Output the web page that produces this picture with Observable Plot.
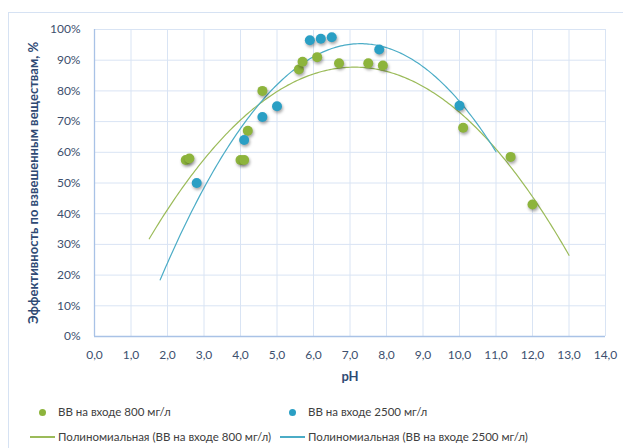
<!DOCTYPE html>
<html>
<head>
<meta charset="utf-8">
<script src="https://cdn.jsdelivr.net/npm/d3@7"></script>
<script src="https://cdn.jsdelivr.net/npm/@observablehq/plot@0.6"></script>
<style>
  html, body { margin: 0; padding: 0; width: 623px; height: 448px; overflow: hidden; background: #fff; font-family: Lato, "Open Sans", sans-serif; }
  #frame { position: absolute; left: 8px; top: 12px; width: 700px; height: 500px; border: 1px solid #d6e2f3; box-sizing: border-box; }
  #chart { position: absolute; left: 0; top: 0; }
  .dots circle { filter: drop-shadow(1px 2px 1.5px rgba(0,0,0,0.35)); }
  .leg { position: absolute; font-size: 11.5px; color: #404040; white-space: nowrap; line-height: 14px; }
  .sw-dot { position: absolute; width: 7px; height: 7px; border-radius: 50%; }
  .sw-line { position: absolute; height: 1.5px; }
</style>
</head>
<body>
<div id="frame"></div>
<div id="chart"></div>
<div id="legend"></div>
<script>
// Series: ВВ на входе 800 мг/л
const ph800  = [2.5, 2.6, 4.0, 4.1, 4.2, 4.6, 5.6, 5.7, 6.1, 6.7, 7.5, 7.9, 10.1, 11.4, 12.0];
const eff800 = [57.5, 58, 57.5, 57.5, 67, 80, 87, 89.5, 91, 89, 89, 88.3, 68, 58.5, 43];
// Series: ВВ на входе 2500 мг/л
const ph2500  = [2.8, 4.1, 4.6, 5.0, 5.9, 6.2, 6.5, 7.8, 10.0];
const eff2500 = [50, 64, 71.5, 75, 96.5, 97, 97.5, 93.5, 75.2];
// Trendline x-extents (as drawn)
const trend800Range  = [1.5, 13.0];
const trend2500Range = [1.8, 11.0];

const xTicks = d3.range(0, 14.01, 1);
const yTicks = d3.range(0, 100.01, 10);

const series = [
  {name: "ВВ на входе 800 мг/л", trend: "Полиномиальная (ВВ на входе 800 мг/л)", xs: ph800, ys: eff800, range: trend800Range, dot: "#8db43c", line: "#9bbb59"},
  {name: "ВВ на входе 2500 мг/л", trend: "Полиномиальная (ВВ на входе 2500 мг/л)", xs: ph2500, ys: eff2500, range: trend2500Range, dot: "#2a9fc4", line: "#4bacc6"}
];

// least-squares quadratic fit (Excel polynomial trendline, order 2)
function quadFit(xs, ys) {
  let S = Array(5).fill(0), T = Array(3).fill(0);
  xs.forEach((x, i) => {
    for (let k = 0; k < 5; k++) S[k] += Math.pow(x, k);
    for (let k = 0; k < 3; k++) T[k] += Math.pow(x, k) * ys[i];
  });
  const A = [[S[0], S[1], S[2], T[0]], [S[1], S[2], S[3], T[1]], [S[2], S[3], S[4], T[2]]];
  for (let i = 0; i < 3; i++) {
    for (let j = i + 1; j < 3; j++) {
      const f = A[j][i] / A[i][i];
      for (let k = i; k < 4; k++) A[j][k] -= f * A[i][k];
    }
  }
  const c = [0, 0, 0];
  for (let i = 2; i >= 0; i--) {
    let s = A[i][3];
    for (let k = i + 1; k < 3; k++) s -= A[i][k] * c[k];
    c[i] = s / A[i][i];
  }
  return x => c[0] + c[1] * x + c[2] * x * x;
}

const dots = series.flatMap(s => s.xs.map((x, i) => ({x, y: s.ys[i], s: s.name, color: s.dot})));
const trends = series.flatMap(s => {
  const f = quadFit(s.xs, s.ys);
  return d3.range(s.range[0], s.range[1] + 1e-9, 0.05).map(x => ({x, y: f(x), s: s.name, color: s.line}));
});

const fmtX = d => d.toFixed(1).replace(".", ",");

const plot = Plot.plot({
  width: 623,
  height: 395,
  marginLeft: 94,
  marginRight: 18,
  marginTop: 29,
  marginBottom: 59,
  style: {fontFamily: "Lato, 'Open Sans', sans-serif", fontSize: "12px", color: "#3d4f6e", background: "transparent"},
  x: {domain: [0, 14], ticks: xTicks, tickFormat: fmtX},
  y: {domain: [0, 100], ticks: yTicks, tickFormat: d => d + "%"},
  marks: [
    Plot.gridX(xTicks, {stroke: "#d9e4f4", strokeOpacity: 1, strokeWidth: 1}),
    Plot.gridY(yTicks, {stroke: "#d9e4f4", strokeOpacity: 1, strokeWidth: 1}),
    Plot.ruleX([0], {stroke: "#a9c2e6", strokeWidth: 1.3}),
    Plot.ruleY([0], {stroke: "#a9c2e6", strokeWidth: 1.3}),
    Plot.axisX(xTicks, {tickSize: 0, tickPadding: 14, tickFormat: fmtX, label: null, fontSize: 12}),
    Plot.axisY(yTicks, {tickSize: 0, tickPadding: 14, tickFormat: d => d + "%", label: null, fontSize: 12}),
    Plot.text(["pH"], {frameAnchor: "bottom", dy: 44, fontWeight: "bold", fontSize: 13, fill: "#2f4a74"}),
    Plot.text(["Эффективность по взвешенным веществам, %"], {frameAnchor: "left", textAnchor: "middle", dx: -61, rotate: -90, fontWeight: "bold", fontSize: 13, fill: "#2f4a74"}),
    Plot.line(trends, {x: "x", y: "y", z: "s", stroke: "color", strokeWidth: 1.2}),
    Plot.dot(dots, {x: "x", y: "y", r: 5, fill: "color", className: "dots"})
  ]
});
document.getElementById("chart").appendChild(plot);

// Legend
const legend = document.getElementById("legend");
const cols = [30, 280];
series.forEach((s, i) => {
  const x0 = cols[i];
  const d = document.createElement("div");
  d.className = "sw-dot";
  d.style.left = (x0 + 9) + "px"; d.style.top = (412 - 3.5) + "px"; d.style.background = s.dot;
  legend.appendChild(d);
  const t1 = document.createElement("div");
  t1.className = "leg"; t1.textContent = s.name;
  t1.style.left = (x0 + 28) + "px"; t1.style.top = (412 - 7) + "px";
  legend.appendChild(t1);
  const l = document.createElement("div");
  l.className = "sw-line";
  l.style.left = x0 + "px"; l.style.width = "25px"; l.style.top = "436px"; l.style.background = s.line;
  legend.appendChild(l);
  const t2 = document.createElement("div");
  t2.className = "leg"; t2.textContent = s.trend;
  t2.style.left = (x0 + 28) + "px"; t2.style.top = (437 - 7) + "px";
  legend.appendChild(t2);
});
</script>
</body>
</html>
